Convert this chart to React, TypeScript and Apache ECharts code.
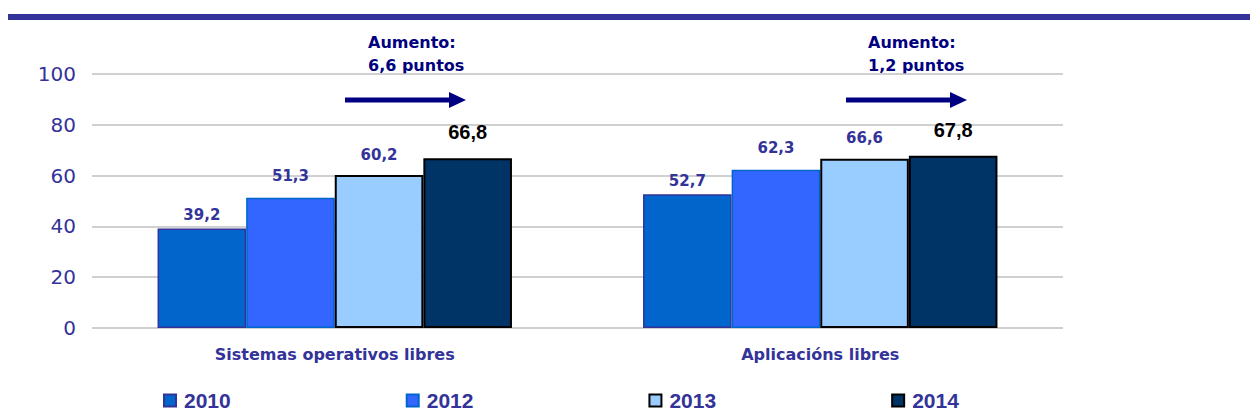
import React, { useEffect, useRef } from "react";
import * as echarts from "echarts";

const categories = ["Sistemas operativos libres", "Aplicacións libres"];
const seriesNames = ["2010", "2012", "2013", "2014"];
const values2010 = [39.2, 52.7];
const values2012 = [51.3, 62.3];
const values2013 = [60.2, 66.6];
const values2014 = [66.8, 67.8];
const annotations = ["Aumento:\n6,6 puntos", "Aumento:\n1,2 puntos"];

const fmt = (v: number) => v.toFixed(1).replace(".", ",");

export default function App() {
  const ref = useRef<HTMLDivElement>(null);
  useEffect(() => {
    if (!ref.current) return;
    const chart = echarts.init(ref.current, null, { renderer: "svg" });
    const dataSets = [values2010, values2012, values2013, values2014];
    const colors = ["#0066CC", "#3366FF", "#99CCFF", "#003366"];
    const borders = ["#333399", "#0066CC", "#000000", "#000000"];
    const borderW = [1.5, 1.5, 2, 2];
    const dist = [6, 14, 13, 16];
    const series = seriesNames.map((name, i) => ({
      name,
      type: "bar",
      data: dataSets[i],
      barGap: "0%",
      barCategoryGap: "27%",
      itemStyle: { color: colors[i], borderColor: borders[i], borderWidth: borderW[i] },
      label: {
        show: true,
        position: "top",
        distance: dist[i],
        formatter: (p: any) => fmt(p.value),
        color: i === 3 ? "#000000" : "#333399",
        fontFamily: i === 3 ? "Liberation Sans, Arial" : "DejaVu Sans",
        fontWeight: "bold",
        fontSize: i === 3 ? 20 : 15,
      },
    }));
    const annX = [368, 868];
    const arrowX = [345, 846];
    const graphic: any[] = [
      { type: "rect", shape: { x: 8, y: 14, width: 1242, height: 6 }, style: { fill: "#333399" } },
    ];
    annotations.forEach((t, i) => {
      graphic.push({
        type: "text",
        x: annX[i],
        y: 31,
        style: { text: t, fill: "#000080", font: "bold 16px 'DejaVu Sans'", lineHeight: 23 },
      });
      graphic.push({
        type: "line",
        shape: { x1: arrowX[i], y1: 100, x2: arrowX[i] + 106, y2: 100 },
        style: { stroke: "#000080", lineWidth: 5 },
      });
      graphic.push({
        type: "polygon",
        shape: { points: [[arrowX[i] + 104, 92], [arrowX[i] + 121, 100], [arrowX[i] + 104, 108]] },
        style: { fill: "#000080" },
      });
    });
    chart.setOption({
      animation: false,
      backgroundColor: "#ffffff",
      grid: { left: 92, right: 187, top: 74, bottom: 91 },
      legend: {
        data: seriesNames,
        left: 158,
        top: 385,
        itemWidth: 12,
        itemHeight: 12,
        itemGap: 175,
        icon: "rect",
        textStyle: {
          color: "#333399",
          fontWeight: "bold",
          fontSize: 21,
          fontFamily: "Liberation Sans, Arial",
          padding: [0, 0, 0, 3],
        },
      },
      xAxis: {
        type: "category",
        data: categories,
        axisLine: { show: false },
        axisTick: { show: false },
        axisLabel: {
          color: "#333399",
          fontWeight: "bold",
          fontSize: 16,
          fontFamily: "DejaVu Sans",
          margin: 18,
        },
      },
      yAxis: {
        type: "value",
        min: 0,
        max: 100,
        interval: 20,
        axisLine: { show: false },
        axisTick: { show: false },
        splitLine: { lineStyle: { color: "#C0C0C0", width: 1.5 } },
        axisLabel: { color: "#333399", fontSize: 20, fontFamily: "DejaVu Sans", margin: 16 },
      },
      graphic,
      series,
    });
    return () => chart.dispose();
  }, []);
  return (
    <div
      ref={ref}
      style={{ position: "fixed", left: 0, top: 0, width: 1250, height: 419 }}
    />
  );
}
